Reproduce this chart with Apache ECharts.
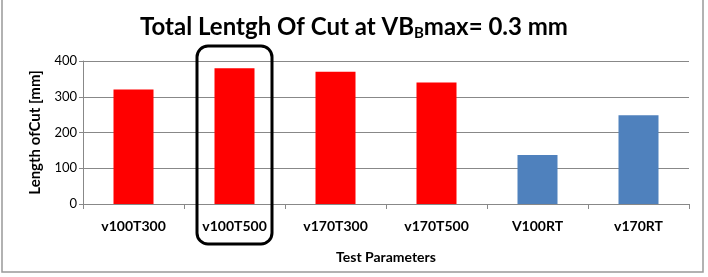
<!DOCTYPE html>
<html>
<head>
<meta charset="utf-8">
<script src="https://cdn.jsdelivr.net/npm/echarts@6/dist/echarts.min.js"></script>
<style>
  html, body { margin: 0; padding: 0; background: #fff; }
  #main { width: 708px; height: 277px; }
</style>
</head>
<body>
<div id="main"></div>
<script>
// 数据
var categories = ['v100T300', 'v100T500', 'v170T300', 'v170T500', 'V100RT', 'v170RT'];
var cutLength = [320, 380, 370, 340, 137, 248];
var barColors = ['#FF0000', '#FF0000', '#FF0000', '#FF0000', '#4F81BD', '#4F81BD'];
var yTicks = [0, 100, 200, 300, 400];

var fontFam = 'Lato, "Open Sans", sans-serif';

var myChart = echarts.init(document.getElementById('main'), null, {renderer: 'canvas'});

var option = {
  animation: false,
  backgroundColor: '#fff',
  title: {
    text: '{t|Total Lentgh Of Cut at VB}{s|B}{t|max= 0.3 mm}',
    left: 'center',
    top: 8,
    textStyle: {
      rich: {
        t: { fontSize: 24, fontWeight: 'bold', color: '#000', fontFamily: fontFam },
        s: { fontSize: 15, fontWeight: 'bold', color: '#000', fontFamily: fontFam, padding: [13, 0, 0, 0] }
      }
    }
  },
  grid: { left: 83, right: 19, top: 61, bottom: 73, containLabel: false },
  xAxis: {
    type: 'category',
    data: categories,
    name: 'Test Parameters',
    nameLocation: 'middle',
    nameGap: 46,
    nameTextStyle: { fontSize: 14, fontWeight: 'bold', color: '#000', fontFamily: fontFam },
    axisLine: { lineStyle: { color: '#888' } },
    axisTick: { show: true, alignWithLabel: false, length: 5, lineStyle: { color: '#888' } },
    axisLabel: { fontSize: 14, fontWeight: 'bold', color: '#000', fontFamily: fontFam, margin: 15 }
  },
  yAxis: {
    type: 'value',
    min: yTicks[0],
    max: yTicks[yTicks.length - 1],
    interval: 100,
    name: 'Length ofCut [mm]',
    nameLocation: 'middle',
    nameGap: 40,
    nameTextStyle: { fontSize: 15, fontWeight: 'bold', color: '#000', fontFamily: fontFam },
    axisLine: { show: true, lineStyle: { color: '#888' } },
    axisTick: { show: true, length: 4, lineStyle: { color: '#888' } },
    axisLabel: { fontSize: 13, color: '#000', fontFamily: fontFam, margin: 6 },
    splitLine: { lineStyle: { color: '#888' } }
  },
  series: [{
    type: 'bar',
    barWidth: 40,
    data: cutLength.map(function (v, i) {
      return { value: v, itemStyle: { color: barColors[i] } };
    })
  }],
  graphic: [
    {
      type: 'rect',
      shape: { x: 2, y: -5, width: 701, height: 277 },
      style: { fill: 'none', stroke: '#999', lineWidth: 1.5 },
      silent: true
    },
    {
      type: 'rect',
      shape: { x: 197, y: 46, width: 75, height: 198, r: 11 },
      style: { fill: 'none', stroke: '#000', lineWidth: 3 },
      silent: true,
      z: 100
    }
  ]
};

myChart.setOption(option);
</script>
</body>
</html>
